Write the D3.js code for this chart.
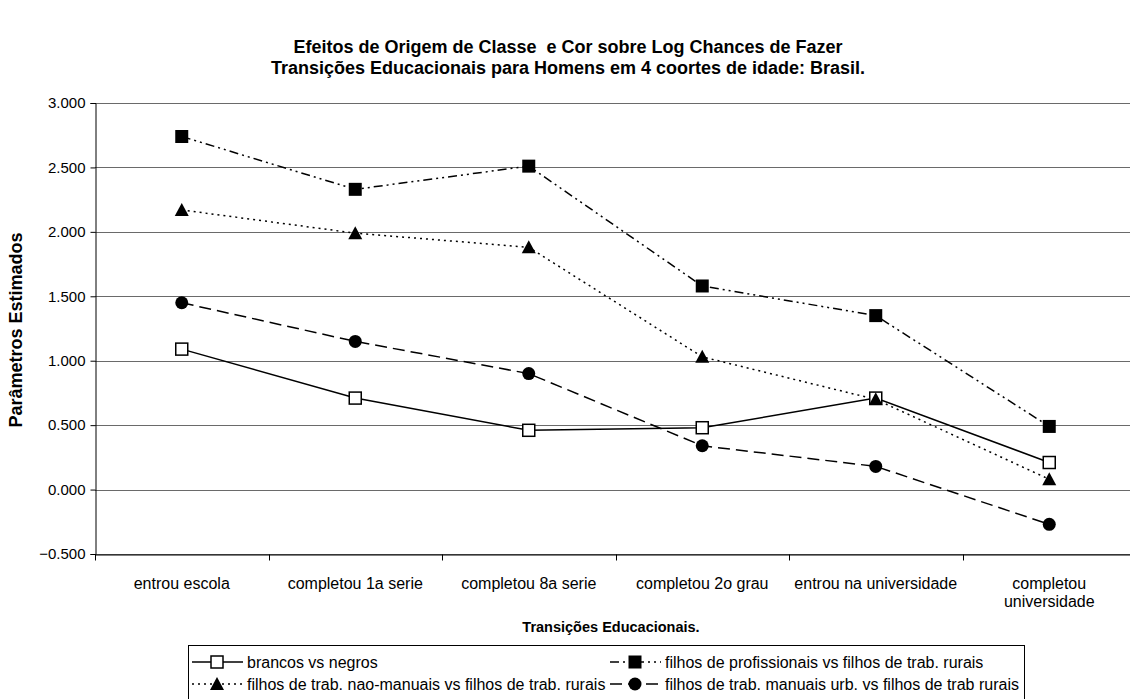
<!DOCTYPE html>
<html>
<head>
<meta charset="utf-8">
<script src="https://cdn.jsdelivr.net/npm/d3@7"></script>
<style>
  body { margin: 0; background: #fff; }
  svg { display: block; font-family: "Liberation Sans", Arial, sans-serif; }
</style>
</head>
<body>
<svg id="chart" width="1130" height="699"></svg>
<script>
const width = 1130;
const height = 699;

const categories = [
  ['entrou escola'],
  ['completou 1a serie'],
  ['completou 8a serie'],
  ['completou 2o grau'],
  ['entrou na universidade'],
  ['completou', 'universidade']
];
const yTicks = [-0.5, 0, 0.5, 1, 1.5, 2, 2.5, 3];

const brancosNegros = [1.09, 0.71, 0.46, 0.48, 0.71, 0.21];
const profissionais = [2.74, 2.33, 2.51, 1.58, 1.35, 0.49];
const naoManuais = [2.17, 1.99, 1.88, 1.03, 0.70, 0.08];
const manuaisUrb = [1.45, 1.15, 0.90, 0.34, 0.18, -0.27];

const seriesNames = [
  'brancos vs negros',
  'filhos de profissionais vs filhos de trab. rurais',
  'filhos de trab. nao-manuais vs filhos de trab. rurais',
  'filhos de trab. manuais urb. vs filhos de trab rurais'
];

const series = [
  {name: seriesNames[0], values: brancosNegros, dash: null, marker: 'openSquare'},
  {name: seriesNames[1], values: profissionais, dash: '9,4,2,4,2,4', marker: 'square'},
  {name: seriesNames[2], values: naoManuais, dash: '2,4', marker: 'triangle'},
  {name: seriesNames[3], values: manuaisUrb, dash: '12,6', marker: 'circle'}
];

const plotLeft = 95;
const plotRight = 1136;
const plotTop = 103;
const plotBottom = 554;

const svg = d3.select('#chart');

const xscale = d3.scaleBand()
  .domain(d3.range(categories.length))
  .range([plotLeft, plotRight]);

const yscale = d3.scaleLinear()
  .domain([-0.5, 3])
  .range([plotBottom, plotTop]);

// title
const title = svg.append('text')
  .attr('text-anchor', 'middle')
  .attr('font-weight', 'bold')
  .attr('font-size', 18)
  .attr('xml:space', 'preserve');
title.append('tspan').attr('x', 568).attr('y', 53)
  .text('Efeitos de Origem de Classe  e Cor sobre Log Chances de Fazer');
title.append('tspan').attr('x', 568).attr('y', 74)
  .text('Transições Educacionais para Homens em 4 coortes de idade: Brasil.');

// gridlines
svg.append('g')
  .selectAll('line')
  .data(yTicks)
  .enter()
  .append('line')
  .attr('x1', plotLeft)
  .attr('x2', width)
  .attr('y1', d => Math.round(yscale(d)) + 0.5)
  .attr('y2', d => Math.round(yscale(d)) + 0.5)
  .attr('stroke', '#6a6a6a')
  .attr('stroke-width', 1);

// y axis
const leftAxis = d3.axisLeft(yscale)
  .tickValues(yTicks)
  .tickFormat(d3.format('.3f'))
  .tickSize(5)
  .tickPadding(5);

const gy = svg.append('g')
  .attr('transform', `translate(${plotLeft + 0.5}, 0)`)
  .call(leftAxis);
gy.select('.domain').attr('stroke', '#000');
gy.selectAll('line').attr('stroke', '#000');
gy.selectAll('text')
  .attr('font-size', 15)
  .attr('font-family', '"Liberation Sans", Arial, sans-serif')
  .attr('fill', '#000');

// x axis
const bottomAxis = d3.axisBottom(xscale)
  .tickSize(0)
  .tickFormat('');

const gx = svg.append('g')
  .attr('transform', `translate(0, ${Math.round(plotBottom) + 0.5})`)
  .call(bottomAxis);
gx.select('.domain').attr('stroke', '#000');

gx.selectAll('.boundary')
  .data(d3.range(categories.length + 1))
  .enter()
  .append('line')
  .attr('x1', i => Math.round(plotLeft + i * xscale.step()) + 0.5)
  .attr('x2', i => Math.round(plotLeft + i * xscale.step()) + 0.5)
  .attr('y1', 0)
  .attr('y2', 6)
  .attr('stroke', '#000');

const xLabels = svg.append('g')
  .selectAll('text')
  .data(categories)
  .enter()
  .append('text')
  .attr('text-anchor', 'middle')
  .attr('font-size', 16)
  .attr('x', (d, i) => xscale(i) + xscale.bandwidth() / 2)
  .attr('y', 589);
xLabels.each(function(lines, i) {
  d3.select(this).selectAll('tspan')
    .data(lines)
    .enter()
    .append('tspan')
    .attr('x', xscale(i) + xscale.bandwidth() / 2)
    .attr('dy', (d, j) => j === 0 ? 0 : 18)
    .text(d => d);
});

// axis titles
svg.append('text')
  .attr('x', 611)
  .attr('y', 632)
  .attr('text-anchor', 'middle')
  .attr('font-weight', 'bold')
  .attr('font-size', 14.5)
  .text('Transições Educacionais.');

svg.append('text')
  .attr('transform', `translate(22, 330) rotate(-90)`)
  .attr('text-anchor', 'middle')
  .attr('font-weight', 'bold')
  .attr('font-size', 18)
  .text('Parâmetros Estimados');

// markers
function drawMarker(g, type, x, y) {
  if (type === 'openSquare') {
    g.append('rect').attr('x', x - 6).attr('y', y - 6).attr('width', 12).attr('height', 12)
      .attr('fill', '#fff').attr('stroke', '#000').attr('stroke-width', 1.5);
  } else if (type === 'square') {
    g.append('rect').attr('x', x - 6.5).attr('y', y - 6.5).attr('width', 13).attr('height', 13)
      .attr('fill', '#000');
  } else if (type === 'triangle') {
    g.append('path').attr('d', `M${x},${y - 7}L${x + 7},${y + 6}L${x - 7},${y + 6}Z`)
      .attr('fill', '#000');
  } else {
    g.append('circle').attr('cx', x).attr('cy', y).attr('r', 6.5).attr('fill', '#000');
  }
}

const line = d3.line()
  .x((d, i) => xscale(i) + xscale.bandwidth() / 2)
  .y(d => yscale(d));

const plot = svg.append('g');
series.forEach(s => {
  plot.append('path')
    .datum(s.values)
    .attr('d', line)
    .attr('fill', 'none')
    .attr('stroke', '#000')
    .attr('stroke-width', 1.5)
    .attr('stroke-dasharray', s.dash);
});
series.forEach(s => {
  s.values.forEach((v, i) => {
    drawMarker(plot, s.marker, xscale(i) + xscale.bandwidth() / 2, yscale(v));
  });
});

// legend
const legendX = 188;
const legendY = 645;
const legendW = 836;
const legend = svg.append('g');
legend.append('rect')
  .attr('x', legendX + 0.5)
  .attr('y', legendY + 0.5)
  .attr('width', legendW)
  .attr('height', 70)
  .attr('fill', '#fff')
  .attr('stroke', '#000');

const legendPos = [
  {x: legendX + 4, y: 662},
  {x: legendX + 422, y: 662},
  {x: legendX + 4, y: 684},
  {x: legendX + 422, y: 684}
];
series.forEach((s, i) => {
  const p = legendPos[i];
  legend.append('line')
    .attr('x1', p.x).attr('x2', p.x + 51)
    .attr('y1', p.y).attr('y2', p.y)
    .attr('stroke', '#000')
    .attr('stroke-width', 1.5)
    .attr('stroke-dasharray', s.dash);
  drawMarker(legend, s.marker, p.x + 25, p.y);
  legend.append('text')
    .attr('x', p.x + 55)
    .attr('y', p.y + 6)
    .attr('font-size', 16)
    .text(s.name);
});
</script>
</body>
</html>
